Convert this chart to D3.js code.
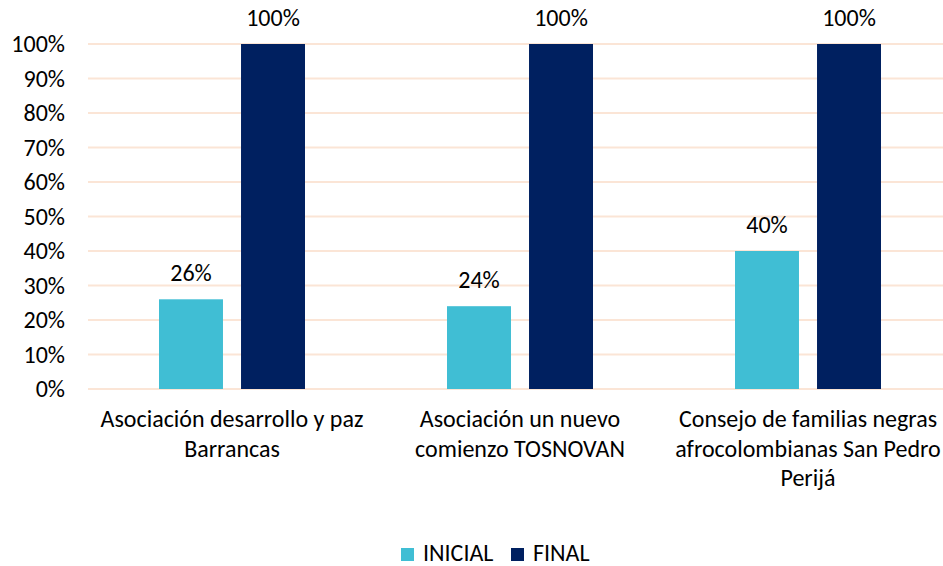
<!DOCTYPE html>
<html>
<head>
<meta charset="utf-8">
<script src="https://cdn.jsdelivr.net/npm/d3@7"></script>
<style>
  body { margin: 0; background: #fff; }
  svg text { font-family: Carlito, Calibri, "Open Sans", sans-serif; fill: #000; }
</style>
</head>
<body>
<svg id="chart" width="943" height="566"></svg>
<script>
// datos
var categories = ["Asociación desarrollo y paz Barrancas", "Asociación un nuevo comienzo TOSNOVAN", "Consejo de familias negras afrocolombianas San Pedro Perijá"];
var series = ["INICIAL", "FINAL"];
var inicial = [26, 24, 40];
var final = [100, 100, 100];
var yTicks = [0, 10, 20, 30, 40, 50, 60, 70, 80, 90, 100];
var colors = ["#40BED4", "#002060"];

var svg = d3.select("#chart"),
    margin = { left: 88, top: 44 },
    plotW = 864,
    plotH = 345,
    fs = "24px";

var g = svg.append("g").attr("transform", "translate(" + margin.left + "," + margin.top + ")");

var x = d3.scaleBand().domain(categories).range([0, plotW]);
var xs = d3.scaleBand().domain(series).range([71, 217]).paddingInner(0.22);
var y = d3.scaleLinear().domain([0, 100]).range([plotH, 0]);

// lineas de cuadricula
g.selectAll(".grid").data(yTicks).enter().append("line")
    .attr("x1", 0).attr("x2", plotW)
    .attr("y1", function (d) { return y(d); })
    .attr("y2", function (d) { return y(d); })
    .attr("stroke", "#FBE5D6").attr("stroke-width", 2);

// eje y
var yAxis = g.append("g").call(d3.axisLeft(y).tickValues(yTicks).tickSize(0).tickPadding(23).tickFormat(function (d) { return d + "%"; }));
yAxis.select(".domain").remove();
yAxis.selectAll("text").style("font-size", fs).attr("fill", "#000");

var data = categories.map(function (c, i) {
    return { cat: c, vals: [{ s: "INICIAL", v: inicial[i] }, { s: "FINAL", v: final[i] }] };
});

var grp = g.selectAll(".grp").data(data).enter().append("g")
    .attr("transform", function (d) { return "translate(" + x(d.cat) + ",0)"; });

grp.selectAll("rect").data(function (d) { return d.vals; }).enter().append("rect")
    .attr("x", function (d) { return xs(d.s); })
    .attr("width", xs.bandwidth())
    .attr("y", function (d) { return y(d.v); })
    .attr("height", function (d) { return plotH - y(d.v); })
    .attr("fill", function (d, i) { return colors[i]; });

grp.selectAll(".lbl").data(function (d) { return d.vals; }).enter().append("text")
    .attr("x", function (d) { return xs(d.s) + xs.bandwidth() / 2; })
    .attr("y", function (d) { return y(d.v) - 18; })
    .attr("text-anchor", "middle")
    .style("font-size", fs)
    .text(function (d) { return d.v + "%"; });

// etiquetas de categoria con ajuste de linea
function wrap(text, width) {
    text.each(function () {
        var t = d3.select(this), words = t.text().split(" "), line = [], lines = [];
        t.text(null);
        var probe = t.append("tspan");
        words.forEach(function (w) {
            line.push(w);
            probe.text(line.join(" "));
            if (probe.node().getComputedTextLength() > width && line.length > 1) {
                line.pop();
                lines.push(line.join(" "));
                line = [w];
            }
        });
        lines.push(line.join(" "));
        probe.remove();
        lines.forEach(function (l, i) {
            t.append("tspan").attr("x", t.attr("x")).attr("dy", i === 0 ? 0 : 29.5).text(l);
        });
    });
}

g.selectAll(".cat").data(categories).enter().append("text")
    .attr("x", function (d) { return x(d) + x.bandwidth() / 2; })
    .attr("y", plotH + 38)
    .attr("text-anchor", "middle")
    .style("font-size", fs)
    .text(function (d) { return d; })
    .call(wrap, 272);

// leyenda
var legend = svg.append("g").attr("transform", "translate(401,548)");
var li = legend.selectAll("g").data(series).enter().append("g")
    .attr("transform", function (d, i) { return "translate(" + (i * 110) + ",0)"; });
li.append("rect").attr("width", 13).attr("height", 13).attr("fill", function (d, i) { return colors[i]; });
li.append("text").attr("x", 22).attr("y", 13).style("font-size", fs).text(function (d) { return d; });
</script>
</body>
</html>
